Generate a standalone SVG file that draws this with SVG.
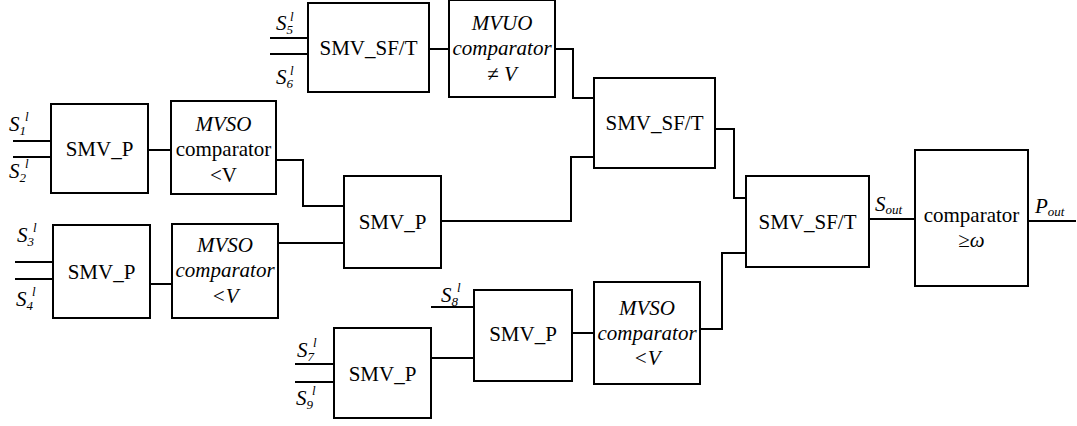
<svg xmlns="http://www.w3.org/2000/svg" width="1077" height="426" viewBox="0 0 1077 426" font-family="'Liberation Serif', 'DejaVu Serif', serif">
<style>
.box{fill:#fff;stroke:#000;stroke-width:2}
.ln{fill:none;stroke:#000;stroke-width:2}
text{font-family:'Liberation Serif','DejaVu Serif',serif;font-size:21px;fill:#000}
.c{text-anchor:middle}
.i{font-style:italic}
.sm{font-size:13px;font-style:italic}
</style>
<rect width="1077" height="426" fill="#fff"/>
<g id="connectors">
<path class="ln" d="M270,38H308M270,54H308"/>
<path class="ln" d="M429,49H449"/>
<path class="ln" d="M555,49H573V98H594"/>
<path class="ln" d="M13,141H51M13,157H51"/>
<path class="ln" d="M148,150H171"/>
<path class="ln" d="M276,160H303V206H344"/>
<path class="ln" d="M15,262H53M15,279H53"/>
<path class="ln" d="M150,284H172"/>
<path class="ln" d="M278,243H344"/>
<path class="ln" d="M441,221H571V157H594"/>
<path class="ln" d="M715,129H734V198H746"/>
<path class="ln" d="M431,307H474"/>
<path class="ln" d="M295,364H334M295,382H334"/>
<path class="ln" d="M431,358H474"/>
<path class="ln" d="M572,333H594"/>
<path class="ln" d="M700,329H722V253H746"/>
<path class="ln" d="M869,219H915"/>
<path class="ln" d="M1028,221H1076"/>
</g>
<g id="labels">
<text class="i" x="276" y="30">S<tspan class="sm" dy="4">5</tspan><tspan class="sm" x="290" y="21">l</tspan></text>
<text class="i" x="276" y="84">S<tspan class="sm" dy="4">6</tspan><tspan class="sm" x="290" y="75">l</tspan></text>
<text class="i" x="9" y="131">S<tspan class="sm" dy="4">1</tspan><tspan class="sm" x="25" y="121">l</tspan></text>
<text class="i" x="9" y="178">S<tspan class="sm" dy="4">2</tspan><tspan class="sm" x="25" y="168">l</tspan></text>
<text class="i" x="17" y="242">S<tspan class="sm" dy="4">3</tspan><tspan class="sm" x="33" y="232">l</tspan></text>
<text class="i" x="16" y="306">S<tspan class="sm" dy="4">4</tspan><tspan class="sm" x="32" y="296">l</tspan></text>
<text class="i" x="441" y="302">S<tspan class="sm" dy="4">8</tspan><tspan class="sm" x="457" y="292">l</tspan></text>
<text class="i" x="297" y="357">S<tspan class="sm" dy="4">7</tspan><tspan class="sm" x="313" y="347">l</tspan></text>
<text class="i" x="296" y="405">S<tspan class="sm" dy="4">9</tspan><tspan class="sm" x="312" y="395">l</tspan></text>
<text class="i" x="875" y="211">S<tspan class="sm" dy="3">out</tspan></text>
<text class="i" x="1035" y="213">P<tspan class="sm" dy="3">out</tspan></text>
</g>
<g id="smv_sft_top">
<rect class="box" x="308" y="3" width="121" height="89"/>
<text class="c" x="368.5" y="55">SMV_SF/T</text>
</g>
<g id="mvuo_comparator">
<rect class="box" x="449" y="0" width="106" height="97"/>
<text class="c i" x="502" y="30">MVUO</text>
<text class="c i" x="502" y="55">comparator</text>
<text class="c" x="502" y="81"><tspan>≠</tspan><tspan class="i"> V</tspan></text>
</g>
<g id="smv_sft_mid">
<rect class="box" x="594" y="78" width="121" height="90"/>
<text class="c" x="654.5" y="130">SMV_SF/T</text>
</g>
<g id="smv_p_1">
<rect class="box" x="51" y="104" width="97" height="89"/>
<text class="c" x="99.5" y="156">SMV_P</text>
</g>
<g id="mvso_comparator_1">
<rect class="box" x="171" y="101" width="105" height="93"/>
<text class="c i" x="223.5" y="131">MVSO</text>
<text class="c" x="223.5" y="156">comparator</text>
<text class="c" x="223.5" y="182">&lt;V</text>
</g>
<g id="smv_p_mid">
<rect class="box" x="344" y="176" width="97" height="92"/>
<text class="c" x="392.5" y="229">SMV_P</text>
</g>
<g id="smv_p_2">
<rect class="box" x="53" y="225" width="97" height="93"/>
<text class="c" x="101.5" y="279">SMV_P</text>
</g>
<g id="mvso_comparator_2">
<rect class="box" x="172" y="224" width="106" height="94"/>
<text class="c i" x="225" y="252">MVSO</text>
<text class="c i" x="225" y="277">comparator</text>
<text class="c i" x="225" y="303">&lt;V</text>
</g>
<g id="smv_sft_right">
<rect class="box" x="746" y="176" width="123" height="91"/>
<text class="c" x="807.5" y="229">SMV_SF/T</text>
</g>
<g id="comparator_out">
<rect class="box" x="915" y="150" width="113" height="136"/>
<text class="c" x="971.5" y="222">comparator</text>
<text class="c" x="971.5" y="247">≥<tspan class="i">ω</tspan></text>
</g>
<g id="smv_p_3">
<rect class="box" x="474" y="290" width="98" height="91"/>
<text class="c" x="523" y="341">SMV_P</text>
</g>
<g id="mvso_comparator_3">
<rect class="box" x="594" y="282" width="106" height="102"/>
<text class="c i" x="647" y="315">MVSO</text>
<text class="c i" x="647" y="340">comparator</text>
<text class="c i" x="647" y="365">&lt;V</text>
</g>
<g id="smv_p_4">
<rect class="box" x="334" y="328" width="97" height="90"/>
<text class="c" x="382.5" y="381">SMV_P</text>
</g>
</svg>
